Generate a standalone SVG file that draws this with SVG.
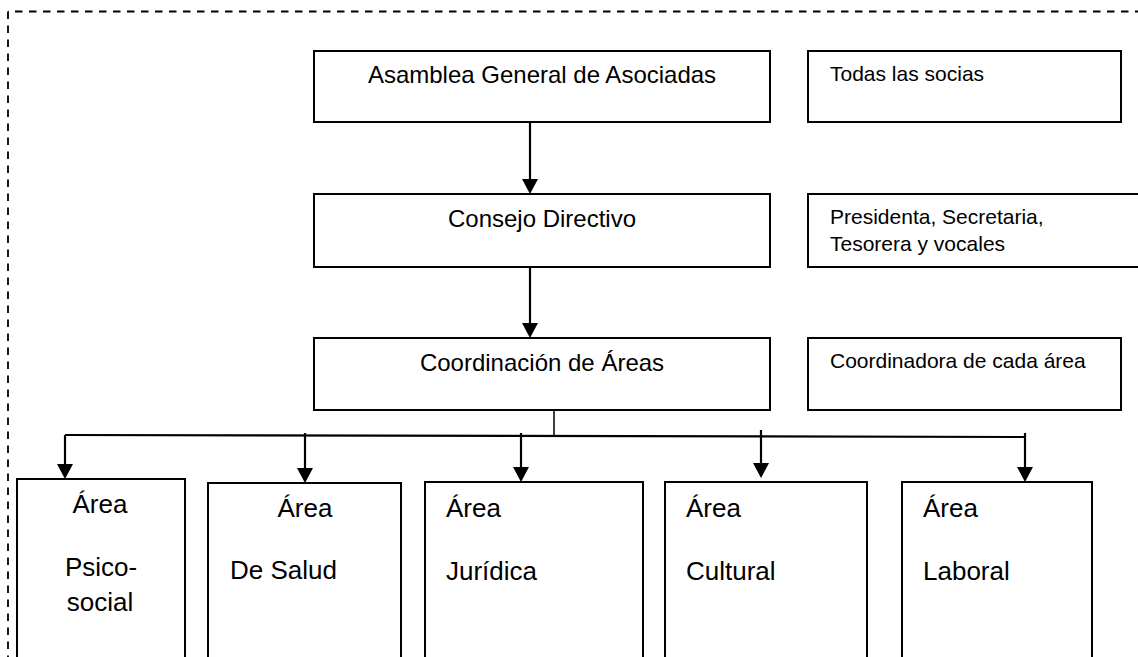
<svg xmlns="http://www.w3.org/2000/svg" width="1138" height="657" viewBox="0 0 1138 657">
<defs>
<style>
.box{fill:#fff;stroke:#000;stroke-width:2}
.t{font-family:"Liberation Sans",Arial,sans-serif;fill:#000}
.main{font-size:24px;text-anchor:middle}
.side{font-size:21px}
.area{font-size:26px}
.c{text-anchor:middle}
.conn{stroke:#000;stroke-width:2.2;fill:none}
.arr{marker-end:url(#ah)}
.frame{stroke:#000;stroke-width:1.8;fill:none;stroke-dasharray:7.5 6.5}
</style>
<marker id="ah" markerUnits="userSpaceOnUse" markerWidth="16" markerHeight="16" refX="7" refY="8" orient="auto" viewBox="0 0 16 16">
<path d="M0,0 L15,8 L0,16 z" fill="#000"/>
</marker>
</defs>
<rect width="1138" height="657" fill="#fff"/>
<g id="frame">
<line class="frame" x1="8" y1="11.5" x2="1140" y2="11.5" stroke-dashoffset="-7"/>
<line class="frame" x1="8" y1="11.5" x2="8" y2="660"/>
</g>
<g id="connectors">
<line class="conn arr" x1="530" y1="122" x2="530" y2="186"/>
<line class="conn arr" x1="530" y1="267" x2="530" y2="330"/>
<line class="conn" x1="554" y1="410" x2="554" y2="436" style="stroke-width:1.5"/>
<line class="conn" x1="65" y1="435" x2="1025" y2="437"/>
<line class="conn arr" x1="65" y1="435" x2="65" y2="471"/>
<line class="conn arr" x1="305" y1="433" x2="305" y2="475"/>
<line class="conn arr" x1="521" y1="433" x2="521" y2="474"/>
<line class="conn arr" x1="761" y1="430" x2="761" y2="470"/>
<line class="conn arr" x1="1025" y1="433" x2="1025" y2="474"/>
</g>
<g id="asamblea">
<rect class="box" x="314" y="51" width="456" height="71"/>
<text class="t main" x="542" y="83">Asamblea General de Asociadas</text>
</g>
<g id="consejo">
<rect class="box" x="314" y="194" width="456" height="73"/>
<text class="t main" x="542" y="227">Consejo Directivo</text>
</g>
<g id="coordinacion">
<rect class="box" x="314" y="338" width="456" height="72"/>
<text class="t main" x="542" y="371">Coordinación de Áreas</text>
</g>
<g id="todas">
<rect class="box" x="808" y="51" width="313" height="71"/>
<text class="t side" x="830" y="81">Todas las socias</text>
</g>
<g id="presidenta">
<rect class="box" x="808" y="194" width="345" height="73"/>
<text class="t side" x="830" y="224">Presidenta, Secretaria,</text>
<text class="t side" x="830" y="251">Tesorera y vocales</text>
</g>
<g id="coordinadora">
<rect class="box" x="808" y="338" width="313" height="72"/>
<text class="t side" x="830" y="368">Coordinadora de cada área</text>
</g>
<g id="psicosocial">
<rect class="box" x="17" y="479" width="168" height="200"/>
<text class="t area c" x="100" y="513">Área</text>
<text class="t area c" x="101" y="576">Psico-</text>
<text class="t area c" x="100" y="611">social</text>
</g>
<g id="salud">
<rect class="box" x="208" y="483" width="193" height="200"/>
<text class="t area c" x="305" y="517">Área</text>
<text class="t area" x="230" y="579">De Salud</text>
</g>
<g id="juridica">
<rect class="box" x="425" y="482" width="218" height="200"/>
<text class="t area" x="446" y="517">Área</text>
<text class="t area" x="446" y="580">Jurídica</text>
</g>
<g id="cultural">
<rect class="box" x="665" y="482" width="202" height="200"/>
<text class="t area" x="686" y="517">Área</text>
<text class="t area" x="686" y="580">Cultural</text>
</g>
<g id="laboral">
<rect class="box" x="902" y="482" width="190" height="200"/>
<text class="t area" x="923" y="517">Área</text>
<text class="t area" x="923" y="580">Laboral</text>
</g>
</svg>
